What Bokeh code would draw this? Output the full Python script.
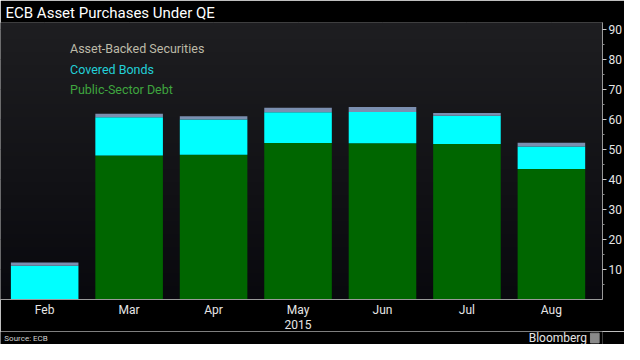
import numpy as np
from bokeh.plotting import figure
from bokeh.layouts import column
from bokeh.models import ColumnDataSource, Range1d, FixedTicker, LinearAxis
from bokeh.core.properties import value
from bokeh.embed import file_html
from bokeh.resources import INLINE

months = ["Feb", "Mar", "Apr", "May", "Jun", "Jul", "Aug"]
year_label = "2015"
public_sector = [0.0, 47.9, 48.2, 52.1, 52.0, 51.8, 43.4]
covered_bonds = [11.2, 12.8, 11.7, 10.2, 10.4, 9.4, 7.5]
asset_backed = [1.1, 1.1, 1.1, 1.5, 1.7, 0.9, 1.3]
y_ticks = [10, 20, 30, 40, 50, 60, 70, 80, 90]
y_minor = [5, 15, 25, 35, 45, 55, 65, 75, 85]
series_names = ["Asset-Backed Securities", "Covered Bonds", "Public-Sector Debt"]

idx = list(range(len(months)))
src = ColumnDataSource(dict(x=idx, psd=public_sector, cb=covered_bonds, abs=asset_backed))

FONT = "Roboto"
xr = Range1d(-0.523, 6.605)
yr = Range1d(0, 92.2)
p = figure(width=624, height=331, output_backend="svg", toolbar_location=None,
           x_range=xr, y_range=yr,
           y_axis_location=None, x_axis_location="below",
           min_border_left=0, min_border_right=10, min_border_top=0, min_border_bottom=0)
p.border_fill_color = "black"
p.background_fill_color = "#141417"
p.outline_line_color = None

# subtle vertical background gradient
n = 64
top = np.array([30, 30, 33], dtype=float)
bot = np.array([9, 9, 14], dtype=float)
img = np.empty((n, 1), dtype=np.uint32)
view = img.view(dtype=np.uint8).reshape((n, 1, 4))
for i in range(n):
    t = i / (n - 1)
    c = bot + (top - bot) * t
    view[i, 0, 0], view[i, 0, 1], view[i, 0, 2] = c.astype(np.uint8)
    view[i, 0, 3] = 255
p.image_rgba(image=[img], x=xr.start, y=yr.start, dw=xr.end - xr.start, dh=yr.end - yr.start)

p.title.text = "ECB Asset Purchases Under QE"
p.title.text_color = "white"
p.title.text_font = FONT
p.title.text_font_size = "15px"
p.title.text_font_style = "normal"
p.title.offset = 5
p.title.standoff = 2

p.vbar_stack(["psd", "cb", "abs"], x="x", width=0.8, source=src,
             color=["#006600", "#00ffff", "#7b8fb0"], line_color=None)

# x axis (months)
xa = p.xaxis[0]
xa.ticker = FixedTicker(ticks=idx)
xa.major_label_overrides = {i: m for i, m in enumerate(months)}
xa.major_tick_line_color = None
xa.major_tick_in = 0
xa.major_tick_out = 0
xa.minor_tick_line_color = None
xa.minor_tick_out = 0
xa.axis_line_color = "#9a9a9a"
xa.major_label_text_color = "#e6e6e6"
xa.major_label_text_font = FONT
xa.major_label_text_font_size = "12px"
xa.major_label_standoff = 3

# second x axis (year)
xa2 = LinearAxis(ticker=FixedTicker(ticks=[3]), major_label_overrides={3: year_label})
xa2.axis_line_color = None
xa2.major_tick_line_color = None
xa2.major_tick_in = 0
xa2.major_tick_out = 0
xa2.minor_tick_line_color = None
xa2.minor_tick_out = 0
xa2.major_label_standoff = 0
xa2.major_label_text_color = "#e6e6e6"
xa2.major_label_text_font = FONT
xa2.major_label_text_font_size = "12px"
p.add_layout(xa2, "below")

# right y axis
ya = LinearAxis(ticker=FixedTicker(ticks=y_ticks, minor_ticks=y_minor))
ya.axis_line_color = "#9a9a9a"
ya.major_tick_line_color = "#cccccc"
ya.minor_tick_line_color = "#888888"
ya.major_tick_in = 0
ya.major_tick_out = 4
ya.minor_tick_in = 0
ya.minor_tick_out = 2
ya.major_label_text_color = "#e6e6e6"
ya.major_label_text_font = FONT
ya.major_label_text_font_size = "12px"
ya.major_label_standoff = 2
p.add_layout(ya, "right")

p.xgrid.ticker = FixedTicker(ticks=idx)
p.xgrid.grid_line_color = "#2c2c30"
p.ygrid.ticker = FixedTicker(ticks=y_ticks)
p.ygrid.grid_line_color = "#3a3a3e"
p.ygrid.grid_line_dash = "1 2"

# legend as coloured texts
leg = ColumnDataSource(dict(x=[0.30, 0.30, 0.30], y=[83.5, 76.5, 69.8], text=series_names,
                            color=["#bdbaa8", "#22d0d8", "#3fa53f"]))
p.text(x="x", y="y", text="text", text_color="color", source=leg, text_font=value(FONT),
       text_font_size="12.5px", text_baseline="middle")

# footer strip
f = figure(width=624, height=13, output_backend="svg", toolbar_location=None,
           x_range=Range1d(0, 624), y_range=Range1d(0, 1),
           min_border_left=0, min_border_right=0, min_border_top=0, min_border_bottom=0)
f.axis.visible = False
f.grid.visible = False
f.outline_line_color = None
f.border_fill_color = "black"
f.background_fill_color = "black"
f.text(x=[4], y=[0.5], text=["Source: ECB"], text_color="#d0d0d0", text_font=value(FONT),
       text_font_size="8px", text_baseline="middle")
f.text(x=[608], y=[0.5], text=["Bloomberg"], text_color="#e6e6e6", text_font=value(FONT),
       text_font_size="12px", text_baseline="middle", text_align="right")
f.rect(x=[616], y=[0.5], width=9, height=0.75, color="#8a8a8a")

layout = column(p, f, spacing=0)
open("out.html", "w").write(file_html(layout, INLINE))
